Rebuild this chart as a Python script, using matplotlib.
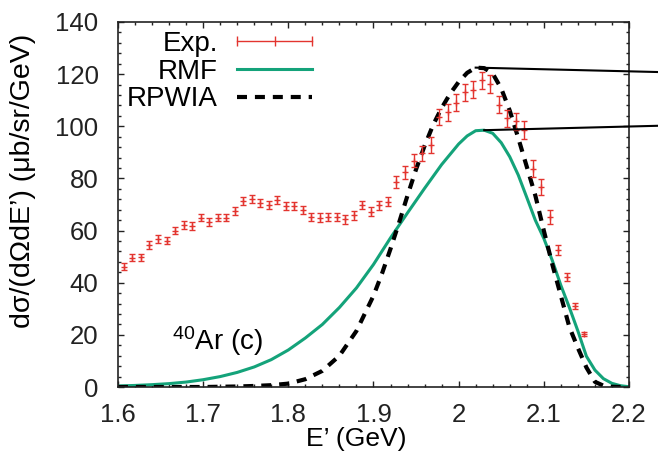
import numpy as np
import matplotlib
matplotlib.use("Agg")
from matplotlib import pyplot as plt
from matplotlib.lines import Line2D
from matplotlib.ticker import MultipleLocator

plt.rcParams['font.family'] = ['Liberation Sans', 'DejaVu Sans']
plt.rcParams['mathtext.fontset'] = 'custom'
plt.rcParams['mathtext.rm'] = 'Liberation Sans'
plt.rcParams['mathtext.default'] = 'regular'

red = '#e3342f'
green = '#14a37a'

# measured cross section
exp_E = [1.607, 1.617, 1.627, 1.637, 1.647, 1.657, 1.667, 1.677, 1.687, 1.697,
         1.707, 1.717, 1.727, 1.737, 1.747, 1.757, 1.767, 1.777, 1.787, 1.797,
         1.807, 1.817, 1.827, 1.837, 1.847, 1.857, 1.867, 1.877, 1.887, 1.897,
         1.907, 1.917, 1.927, 1.937, 1.947, 1.957, 1.967, 1.977, 1.987, 1.997,
         2.007, 2.017, 2.027, 2.037, 2.047, 2.057, 2.067, 2.077, 2.087, 2.097,
         2.107, 2.117, 2.127, 2.137, 2.147]
exp_xs = [46.1, 49.6, 49.7, 54.5, 56.8, 56.1, 60.0, 62.1, 61.9, 65.0,
          63.4, 65.0, 65.0, 67.6, 71.3, 72.0, 70.5, 69.8, 71.7, 69.5,
          69.5, 67.9, 65.3, 65.0, 65.1, 65.3, 64.3, 65.8, 69.8, 67.3,
          69.7, 71.1, 78.6, 82.3, 86.8, 89.6, 92.8, 103.6, 105.4, 109.0,
          113.1, 114.0, 117.7, 116.2, 108.3, 103.0, 101.9, 98.6, 83.8, 76.8,
          65.2, 52.5, 42.2, 31.1, 20.3]
exp_err = [1.3, 1.3, 1.3, 1.4, 1.4, 1.4, 1.5, 1.5, 1.5, 1.5,
           1.5, 1.5, 1.5, 1.6, 1.6, 1.6, 1.6, 1.6, 1.6, 1.6,
           1.6, 1.6, 1.6, 1.6, 1.6, 1.6, 1.6, 1.6, 1.7, 1.7,
           1.7, 1.8, 2.2, 2.4, 2.6, 2.8, 3.0, 3.2, 3.2, 3.2,
           3.3, 3.3, 3.3, 3.3, 3.3, 3.3, 3.3, 3.4, 3.4, 3.0,
           2.5, 2.0, 1.6, 1.2, 0.9]

# RMF calculation
rmf_E = [1.60, 1.62, 1.64, 1.66, 1.68, 1.70, 1.72, 1.74, 1.76, 1.78,
         1.80, 1.82, 1.84, 1.86, 1.88, 1.90, 1.92, 1.94, 1.96, 1.98,
         2.00, 2.01, 2.02, 2.03, 2.04, 2.05, 2.06, 2.07, 2.08, 2.09,
         2.10, 2.11, 2.12, 2.13, 2.14, 2.15, 2.16, 2.17, 2.18, 2.19, 2.20]
rmf_xs = [0.4, 0.6, 0.9, 1.3, 1.9, 2.8, 4.0, 5.6, 7.7, 10.5,
          14.2, 18.8, 24.0, 30.5, 38.0, 47.0, 57.2, 66.8, 76.2, 85.3,
          93.2, 96.3, 98.3, 98.5, 97.3, 93.7, 88.3, 81.3, 72.7, 64.0,
          57.0, 48.5, 39.0, 30.5, 21.5, 11.8, 6.5, 3.2, 1.4, 0.5, 0.1]

# RPWIA calculation
rpwia_E = [1.60, 1.62, 1.64, 1.66, 1.68, 1.70, 1.72, 1.74, 1.76, 1.78,
           1.80, 1.82, 1.84, 1.86, 1.88, 1.90, 1.91, 1.92, 1.93, 1.94,
           1.95, 1.96, 1.97, 1.98, 1.99, 2.00, 2.01, 2.02, 2.03, 2.04,
           2.05, 2.06, 2.07, 2.08, 2.09, 2.10, 2.11, 2.12, 2.13, 2.14,
           2.15, 2.16, 2.17, 2.18, 2.19, 2.20]
rpwia_xs = [0.0, 0.0, 0.0, 0.0, 0.0, 0.0, 0.1, 0.2, 0.4, 0.7,
            1.3, 3.0, 6.2, 12.0, 21.5, 35.0, 43.5, 53.0, 63.0, 73.5,
            83.5, 92.5, 100.5, 107.0, 112.5, 117.0, 120.5, 122.5, 122.3, 120.2,
            114.5, 106.0, 95.5, 84.5, 73.5, 60.0, 47.0, 35.0, 23.0, 15.0,
            7.5, 2.0, 0.5, 0.1, 0.0, 0.0]

fig = plt.figure(figsize=(6.58, 4.61), dpi=100)
ax = fig.add_axes([0.1793, 0.1605, 0.7766, 0.7918])

ax.errorbar(exp_E, exp_xs, yerr=exp_err, fmt='+', color=red, ms=4, mew=1,
            elinewidth=1, capsize=2.5, capthick=1, zorder=3)
ax.plot(rmf_E, rmf_xs, color=green, lw=2.2, zorder=2)
ax.plot(rpwia_E, rpwia_xs, color='black', lw=3, dashes=(2.4, 1.9), zorder=2)

# leader lines from the peaks off to the right
i_top = int(np.argmax(rpwia_xs))
i_low = int(np.argmax(rmf_xs))
ax.plot([rpwia_E[i_top], 2.235], [rpwia_xs[i_top], 120.8], color='black',
        lw=1.5, clip_on=False, zorder=4)
ax.plot([rmf_E[i_low], 2.235], [rmf_xs[i_low], 100.2], color='black',
        lw=1.5, clip_on=False, zorder=4)

ax.set_xlim(1.6, 2.2)
ax.set_ylim(0, 140)
ax.xaxis.set_major_locator(MultipleLocator(0.1))
ax.xaxis.set_minor_locator(MultipleLocator(0.02))
ax.yaxis.set_major_locator(MultipleLocator(20))
ax.yaxis.set_minor_locator(MultipleLocator(4))
ax.set_xticks([1.6, 1.7, 1.8, 1.9, 2.0, 2.1, 2.2])
ax.set_xticklabels(['1.6', '1.7', '1.8', '1.9', '2', '2.1', '2.2'])

ax.tick_params(which='both', direction='in', top=True, right=True,
               width=1, labelsize=18.5, colors='#222222')
ax.tick_params(which='major', length=4.3)
ax.tick_params(which='minor', length=2.4)
ax.tick_params(axis='y', pad=14)
ax.tick_params(axis='x', pad=11.5)
for s in ax.spines.values():
    s.set_linewidth(1.2)
    s.set_color('#222222')

ax.set_xlabel('E’ (GeV)', fontsize=19)
ax.set_ylabel('dσ/(dΩdE’) (μb/sr/GeV)', fontsize=20.5)
ax.xaxis.set_label_coords(0.467, -0.11)
ax.yaxis.set_label_coords(-0.16, 0.565)

ax.text(0.106, 0.101, r'$^{40}$Ar (c)', transform=ax.transAxes,
        fontsize=20, va='baseline', ha='left')

handles = [Line2D([], [], color=red, lw=1, marker='|', ms=7, mew=1),
           Line2D([], [], color=green, lw=2.2),
           Line2D([], [], color='black', lw=3, dashes=(2.4, 1.9))]
ax.legend(handles, ['Exp.', 'RMF', 'RPWIA'], loc='upper right',
          bbox_to_anchor=(0.396, 0.975), frameon=False, fontsize=20,
          markerfirst=False, numpoints=3, handlelength=3.3,
          handletextpad=0.38, labelspacing=0.06, borderpad=0,
          borderaxespad=0)

fig.savefig('out.png', dpi=100)
